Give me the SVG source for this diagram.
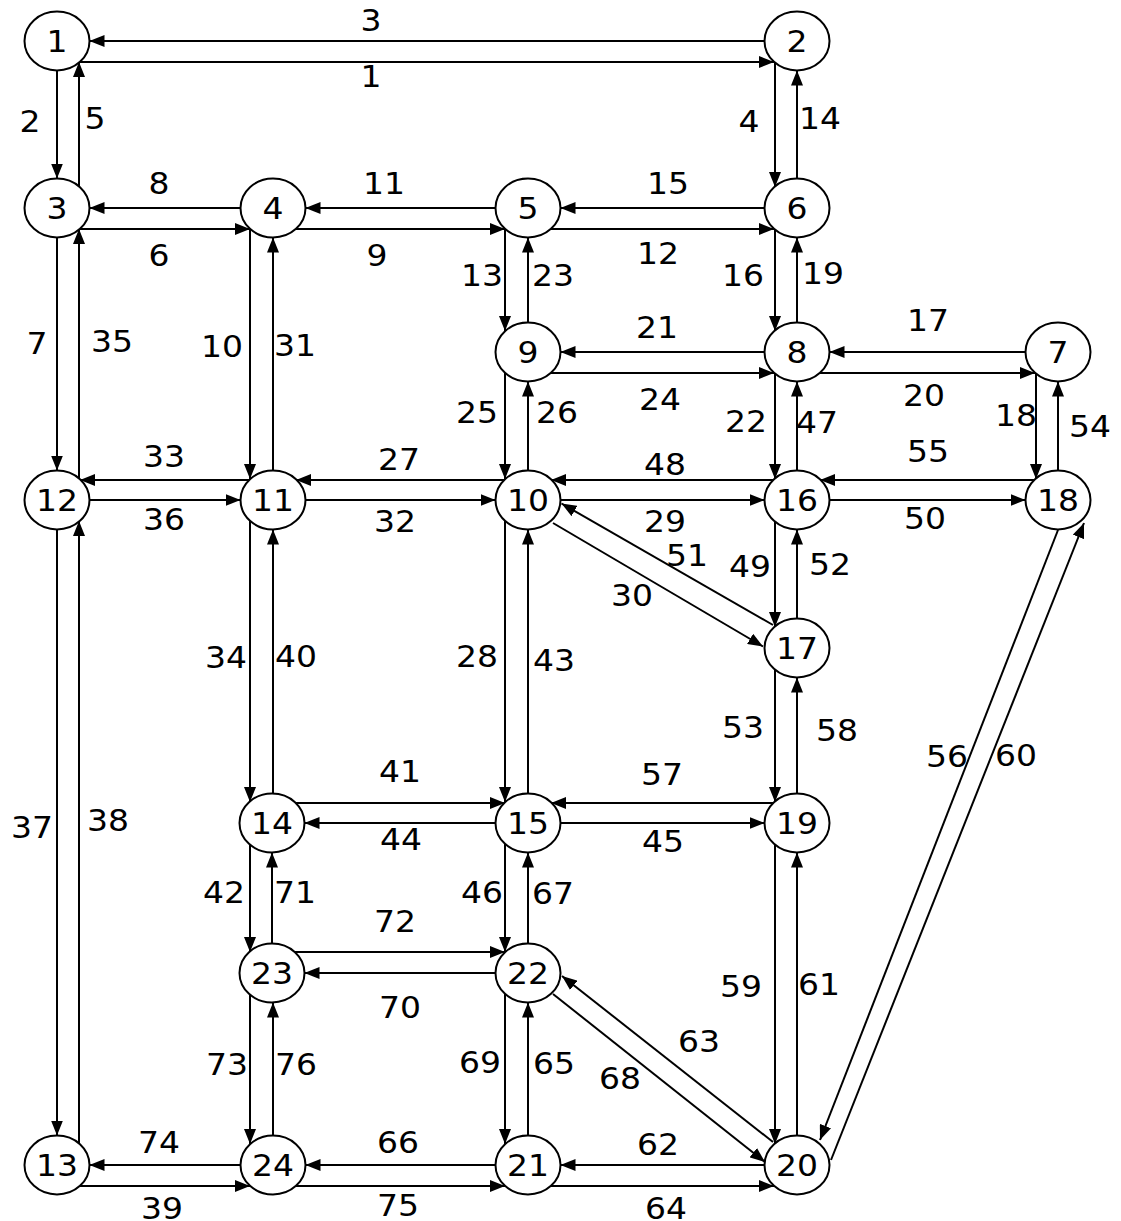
<svg xmlns="http://www.w3.org/2000/svg" width="1121" height="1221" viewBox="0 0 1121 1221">
<style>
.n ellipse{fill:#fff;stroke:#000;stroke-width:2}
text{font-family:"DejaVu Sans","Liberation Sans",sans-serif;font-size:30px;text-anchor:middle;fill:#000}
#connectors line{stroke:#000;stroke-width:2;marker-end:url(#a)}
</style>
<defs>
<marker id="a" markerUnits="userSpaceOnUse" markerWidth="15" markerHeight="12" viewBox="0 0 15 12" refX="15" refY="6" orient="auto"><path d="M0,0 L15,6 L0,12 z" fill="#000"/></marker>
</defs>
<rect width="1121" height="1221" fill="#fff"/>
<g id="connectors">
<g id="e1"><line x1="80" y1="62" x2="774" y2="62"/><text transform="translate(371,87) scale(1.1,1)">1</text></g>
<g id="e2"><line x1="57" y1="70.5" x2="57" y2="178.5"/><text transform="translate(30,132) scale(1.1,1)">2</text></g>
<g id="e3"><line x1="764.5" y1="41" x2="89.5" y2="41"/><text transform="translate(371,31) scale(1.1,1)">3</text></g>
<g id="e4"><line x1="775" y1="62" x2="775" y2="187"/><text transform="translate(749,132) scale(1.1,1)">4</text></g>
<g id="e5"><line x1="79" y1="187" x2="79" y2="62"/><text transform="translate(95,129) scale(1.1,1)">5</text></g>
<g id="e6"><line x1="80" y1="229" x2="250" y2="229"/><text transform="translate(159,266) scale(1.1,1)">6</text></g>
<g id="e7"><line x1="57" y1="237.5" x2="57" y2="470.5"/><text transform="translate(37,354) scale(1.1,1)">7</text></g>
<g id="e8"><line x1="240.5" y1="208" x2="89.5" y2="208"/><text transform="translate(159,194) scale(1.1,1)">8</text></g>
<g id="e9"><line x1="296" y1="229" x2="505" y2="229"/><text transform="translate(377,266) scale(1.1,1)">9</text></g>
<g id="e10"><line x1="250" y1="229" x2="250" y2="479"/><text transform="translate(222,357) scale(1.1,1)">10</text></g>
<g id="e11"><line x1="495.5" y1="208" x2="305.5" y2="208"/><text transform="translate(384,194) scale(1.1,1)">11</text></g>
<g id="e12"><line x1="551" y1="229" x2="774" y2="229"/><text transform="translate(658,264) scale(1.1,1)">12</text></g>
<g id="e13"><line x1="505" y1="229" x2="505" y2="331"/><text transform="translate(482,286) scale(1.1,1)">13</text></g>
<g id="e14"><line x1="797" y1="178.5" x2="797" y2="70.5"/><text transform="translate(820,129) scale(1.1,1)">14</text></g>
<g id="e15"><line x1="764.5" y1="208" x2="560.5" y2="208"/><text transform="translate(668,194) scale(1.1,1)">15</text></g>
<g id="e16"><line x1="775" y1="229" x2="775" y2="331"/><text transform="translate(743,286) scale(1.1,1)">16</text></g>
<g id="e17"><line x1="1025.5" y1="352" x2="829.5" y2="352"/><text transform="translate(928,331) scale(1.1,1)">17</text></g>
<g id="e18"><line x1="1036" y1="373" x2="1036" y2="479"/><text transform="translate(1016,426) scale(1.1,1)">18</text></g>
<g id="e19"><line x1="797" y1="322.5" x2="797" y2="237.5"/><text transform="translate(823,284) scale(1.1,1)">19</text></g>
<g id="e20"><line x1="820" y1="373" x2="1035" y2="373"/><text transform="translate(924,406) scale(1.1,1)">20</text></g>
<g id="e21"><line x1="764.5" y1="352" x2="560.5" y2="352"/><text transform="translate(657,338) scale(1.1,1)">21</text></g>
<g id="e22"><line x1="775" y1="373" x2="775" y2="479"/><text transform="translate(746,432) scale(1.1,1)">22</text></g>
<g id="e23"><line x1="528" y1="322.5" x2="528" y2="237.5"/><text transform="translate(553,286) scale(1.1,1)">23</text></g>
<g id="e24"><line x1="551" y1="373" x2="774" y2="373"/><text transform="translate(660,410) scale(1.1,1)">24</text></g>
<g id="e25"><line x1="505" y1="373" x2="505" y2="479"/><text transform="translate(477,423) scale(1.1,1)">25</text></g>
<g id="e26"><line x1="528" y1="470.5" x2="528" y2="381.5"/><text transform="translate(557,423) scale(1.1,1)">26</text></g>
<g id="e27"><line x1="505" y1="480" x2="296" y2="480"/><text transform="translate(399,470) scale(1.1,1)">27</text></g>
<g id="e28"><line x1="505" y1="521" x2="505" y2="802"/><text transform="translate(477,667) scale(1.1,1)">28</text></g>
<g id="e29"><line x1="560.5" y1="500" x2="764.5" y2="500"/><text transform="translate(665,532) scale(1.1,1)">29</text></g>
<g id="e30"><line x1="553" y1="523" x2="763" y2="646.5"/><text transform="translate(632,606) scale(1.1,1)">30</text></g>
<g id="e31"><line x1="273" y1="470.5" x2="273" y2="237.5"/><text transform="translate(295,356) scale(1.1,1)">31</text></g>
<g id="e32"><line x1="305.5" y1="500" x2="495.5" y2="500"/><text transform="translate(395,532) scale(1.1,1)">32</text></g>
<g id="e33"><line x1="250" y1="480" x2="80" y2="480"/><text transform="translate(164,467) scale(1.1,1)">33</text></g>
<g id="e34"><line x1="250" y1="521" x2="250" y2="802"/><text transform="translate(226,668) scale(1.1,1)">34</text></g>
<g id="e35"><line x1="79" y1="479" x2="79" y2="229"/><text transform="translate(112,352) scale(1.1,1)">35</text></g>
<g id="e36"><line x1="89.5" y1="500" x2="240.5" y2="500"/><text transform="translate(164,530) scale(1.1,1)">36</text></g>
<g id="e37"><line x1="57" y1="529.5" x2="57" y2="1135.5"/><text transform="translate(32,838) scale(1.1,1)">37</text></g>
<g id="e38"><line x1="79" y1="1144" x2="79" y2="521"/><text transform="translate(108,831) scale(1.1,1)">38</text></g>
<g id="e39"><line x1="80" y1="1186" x2="250" y2="1186"/><text transform="translate(162,1219) scale(1.1,1)">39</text></g>
<g id="e40"><line x1="273" y1="793.5" x2="273" y2="529.5"/><text transform="translate(296,667) scale(1.1,1)">40</text></g>
<g id="e41"><line x1="295" y1="803" x2="505" y2="803"/><text transform="translate(400,782) scale(1.1,1)">41</text></g>
<g id="e42"><line x1="250" y1="844" x2="250" y2="952"/><text transform="translate(224,903) scale(1.1,1)">42</text></g>
<g id="e43"><line x1="528" y1="793.5" x2="528" y2="529.5"/><text transform="translate(554,671) scale(1.1,1)">43</text></g>
<g id="e44"><line x1="495.5" y1="823" x2="304.5" y2="823"/><text transform="translate(401,850) scale(1.1,1)">44</text></g>
<g id="e45"><line x1="560.5" y1="823" x2="764.5" y2="823"/><text transform="translate(663,852) scale(1.1,1)">45</text></g>
<g id="e46"><line x1="505" y1="844" x2="505" y2="952"/><text transform="translate(482,903) scale(1.1,1)">46</text></g>
<g id="e47"><line x1="797" y1="470.5" x2="797" y2="381.5"/><text transform="translate(817,433) scale(1.1,1)">47</text></g>
<g id="e48"><line x1="774" y1="480" x2="551" y2="480"/><text transform="translate(665,475) scale(1.1,1)">48</text></g>
<g id="e49"><line x1="775" y1="521" x2="775" y2="627"/><text transform="translate(750,577) scale(1.1,1)">49</text></g>
<g id="e50"><line x1="829.5" y1="500" x2="1025.5" y2="500"/><text transform="translate(925,529) scale(1.1,1)">50</text></g>
<g id="e51"><line x1="773" y1="625" x2="561.5" y2="503.5"/><text transform="translate(687,566) scale(1.1,1)">51</text></g>
<g id="e52"><line x1="797" y1="618.5" x2="797" y2="529.5"/><text transform="translate(830,575) scale(1.1,1)">52</text></g>
<g id="e53"><line x1="775" y1="669" x2="775" y2="802"/><text transform="translate(743,738) scale(1.1,1)">53</text></g>
<g id="e54"><line x1="1058" y1="470.5" x2="1058" y2="381.5"/><text transform="translate(1090,437) scale(1.1,1)">54</text></g>
<g id="e55"><line x1="1035" y1="480" x2="820" y2="480"/><text transform="translate(928,462) scale(1.1,1)">55</text></g>
<g id="e56"><line x1="1058" y1="530" x2="820" y2="1140"/><text transform="translate(947,767) scale(1.1,1)">56</text></g>
<g id="e57"><line x1="774" y1="803" x2="551" y2="803"/><text transform="translate(662,785) scale(1.1,1)">57</text></g>
<g id="e58"><line x1="797" y1="793.5" x2="797" y2="677.5"/><text transform="translate(837,741) scale(1.1,1)">58</text></g>
<g id="e59"><line x1="775" y1="844" x2="775" y2="1144"/><text transform="translate(741,997) scale(1.1,1)">59</text></g>
<g id="e60"><line x1="831" y1="1160" x2="1084" y2="523"/><text transform="translate(1016,766) scale(1.1,1)">60</text></g>
<g id="e61"><line x1="797" y1="1135.5" x2="797" y2="852.5"/><text transform="translate(819,995) scale(1.1,1)">61</text></g>
<g id="e62"><line x1="764.5" y1="1165" x2="560.5" y2="1165"/><text transform="translate(658,1155) scale(1.1,1)">62</text></g>
<g id="e63"><line x1="773" y1="1142" x2="562" y2="976"/><text transform="translate(699,1052) scale(1.1,1)">63</text></g>
<g id="e64"><line x1="551" y1="1186" x2="774" y2="1186"/><text transform="translate(666,1219) scale(1.1,1)">64</text></g>
<g id="e65"><line x1="528" y1="1135.5" x2="528" y2="1002.5"/><text transform="translate(554,1074) scale(1.1,1)">65</text></g>
<g id="e66"><line x1="495.5" y1="1165" x2="305.5" y2="1165"/><text transform="translate(398,1153) scale(1.1,1)">66</text></g>
<g id="e67"><line x1="528" y1="943.5" x2="528" y2="852.5"/><text transform="translate(553,904) scale(1.1,1)">67</text></g>
<g id="e68"><line x1="553" y1="994" x2="765" y2="1162"/><text transform="translate(620,1089) scale(1.1,1)">68</text></g>
<g id="e69"><line x1="505" y1="994" x2="505" y2="1144"/><text transform="translate(480,1073) scale(1.1,1)">69</text></g>
<g id="e70"><line x1="495.5" y1="973" x2="304.5" y2="973"/><text transform="translate(400,1018) scale(1.1,1)">70</text></g>
<g id="e71"><line x1="272" y1="943.5" x2="272" y2="852.5"/><text transform="translate(295,903) scale(1.1,1)">71</text></g>
<g id="e72"><line x1="295" y1="952" x2="505" y2="952"/><text transform="translate(395,932) scale(1.1,1)">72</text></g>
<g id="e73"><line x1="250" y1="994" x2="250" y2="1144"/><text transform="translate(227,1075) scale(1.1,1)">73</text></g>
<g id="e74"><line x1="240.5" y1="1165" x2="89.5" y2="1165"/><text transform="translate(159,1153) scale(1.1,1)">74</text></g>
<g id="e75"><line x1="296" y1="1186" x2="505" y2="1186"/><text transform="translate(398,1216) scale(1.1,1)">75</text></g>
<g id="e76"><line x1="273" y1="1135.5" x2="273" y2="1002.5"/><text transform="translate(296,1075) scale(1.1,1)">76</text></g>
</g>
<g id="nodes">
<g id="n1" class="n"><ellipse cx="57" cy="41" rx="32.5" ry="29.5"/><text transform="translate(57,52) scale(1.1,1)">1</text></g>
<g id="n2" class="n"><ellipse cx="797" cy="41" rx="32.5" ry="29.5"/><text transform="translate(797,52) scale(1.1,1)">2</text></g>
<g id="n3" class="n"><ellipse cx="57" cy="208" rx="32.5" ry="29.5"/><text transform="translate(57,219) scale(1.1,1)">3</text></g>
<g id="n4" class="n"><ellipse cx="273" cy="208" rx="32.5" ry="29.5"/><text transform="translate(273,219) scale(1.1,1)">4</text></g>
<g id="n5" class="n"><ellipse cx="528" cy="208" rx="32.5" ry="29.5"/><text transform="translate(528,219) scale(1.1,1)">5</text></g>
<g id="n6" class="n"><ellipse cx="797" cy="208" rx="32.5" ry="29.5"/><text transform="translate(797,219) scale(1.1,1)">6</text></g>
<g id="n7" class="n"><ellipse cx="1058" cy="352" rx="32.5" ry="29.5"/><text transform="translate(1058,363) scale(1.1,1)">7</text></g>
<g id="n8" class="n"><ellipse cx="797" cy="352" rx="32.5" ry="29.5"/><text transform="translate(797,363) scale(1.1,1)">8</text></g>
<g id="n9" class="n"><ellipse cx="528" cy="352" rx="32.5" ry="29.5"/><text transform="translate(528,363) scale(1.1,1)">9</text></g>
<g id="n10" class="n"><ellipse cx="528" cy="500" rx="32.5" ry="29.5"/><text transform="translate(528,511) scale(1.1,1)">10</text></g>
<g id="n11" class="n"><ellipse cx="273" cy="500" rx="32.5" ry="29.5"/><text transform="translate(273,511) scale(1.1,1)">11</text></g>
<g id="n12" class="n"><ellipse cx="57" cy="500" rx="32.5" ry="29.5"/><text transform="translate(57,511) scale(1.1,1)">12</text></g>
<g id="n13" class="n"><ellipse cx="57" cy="1165" rx="32.5" ry="29.5"/><text transform="translate(57,1176) scale(1.1,1)">13</text></g>
<g id="n14" class="n"><ellipse cx="272" cy="823" rx="32.5" ry="29.5"/><text transform="translate(272,834) scale(1.1,1)">14</text></g>
<g id="n15" class="n"><ellipse cx="528" cy="823" rx="32.5" ry="29.5"/><text transform="translate(528,834) scale(1.1,1)">15</text></g>
<g id="n16" class="n"><ellipse cx="797" cy="500" rx="32.5" ry="29.5"/><text transform="translate(797,511) scale(1.1,1)">16</text></g>
<g id="n17" class="n"><ellipse cx="797" cy="648" rx="32.5" ry="29.5"/><text transform="translate(797,659) scale(1.1,1)">17</text></g>
<g id="n18" class="n"><ellipse cx="1058" cy="500" rx="32.5" ry="29.5"/><text transform="translate(1058,511) scale(1.1,1)">18</text></g>
<g id="n19" class="n"><ellipse cx="797" cy="823" rx="32.5" ry="29.5"/><text transform="translate(797,834) scale(1.1,1)">19</text></g>
<g id="n20" class="n"><ellipse cx="797" cy="1165" rx="32.5" ry="29.5"/><text transform="translate(797,1176) scale(1.1,1)">20</text></g>
<g id="n21" class="n"><ellipse cx="528" cy="1165" rx="32.5" ry="29.5"/><text transform="translate(528,1176) scale(1.1,1)">21</text></g>
<g id="n22" class="n"><ellipse cx="528" cy="973" rx="32.5" ry="29.5"/><text transform="translate(528,984) scale(1.1,1)">22</text></g>
<g id="n23" class="n"><ellipse cx="272" cy="973" rx="32.5" ry="29.5"/><text transform="translate(272,984) scale(1.1,1)">23</text></g>
<g id="n24" class="n"><ellipse cx="273" cy="1165" rx="32.5" ry="29.5"/><text transform="translate(273,1176) scale(1.1,1)">24</text></g>
</g>
</svg>
